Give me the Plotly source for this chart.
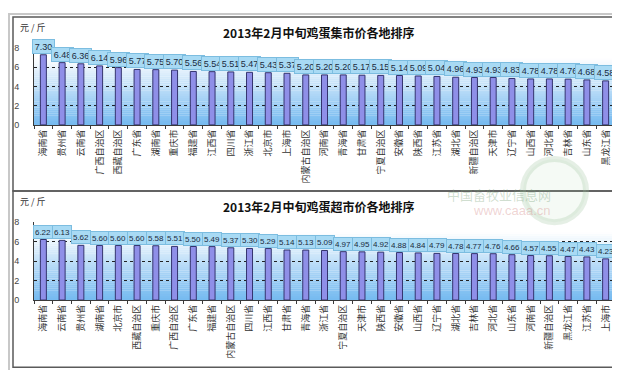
import plotly.graph_objects as go

# ---------------- data ----------------
market_regions = ["海南省", "贵州省", "云南省", "广西自治区", "西藏自治区", "广东省", "湖南省", "重庆市",
                  "福建省", "江西省", "四川省", "浙江省", "北京市", "上海市", "内蒙古自治区", "河南省",
                  "青海省", "甘肃省", "宁夏自治区", "安徽省", "陕西省", "江苏省", "湖北省", "新疆自治区",
                  "天津市", "辽宁省", "山西省", "河北省", "吉林省", "山东省", "黑龙江省"]
market_prices = [7.30, 6.48, 6.36, 6.14, 5.96, 5.77, 5.75, 5.70,
                 5.56, 5.54, 5.51, 5.47, 5.43, 5.37, 5.20, 5.20,
                 5.20, 5.17, 5.15, 5.14, 5.09, 5.04, 4.96, 4.93,
                 4.93, 4.83, 4.78, 4.78, 4.76, 4.68, 4.58]

super_regions = ["海南省", "云南省", "贵州省", "湖南省", "北京市", "西藏自治区", "重庆市", "广西自治区",
                 "广东省", "福建省", "内蒙古自治区", "四川省", "江西省", "甘肃省", "青海省", "浙江省",
                 "宁夏自治区", "天津市", "陕西省", "安徽省", "山西省", "辽宁省", "湖北省", "吉林省",
                 "河北省", "山东省", "河南省", "新疆自治区", "黑龙江省", "江苏省", "上海市"]
super_prices = [6.22, 6.13, 5.62, 5.60, 5.60, 5.60, 5.58, 5.51,
                5.50, 5.49, 5.37, 5.30, 5.29, 5.14, 5.13, 5.09,
                4.97, 4.95, 4.92, 4.88, 4.84, 4.79, 4.78, 4.77,
                4.76, 4.66, 4.57, 4.55, 4.47, 4.43, 4.23]

y_ticks = [0, 2, 4, 6, 8]
title_market = "2013年2月中旬鸡蛋集市价各地排序"
title_super = "2013年2月中旬鸡蛋超市价各地排序"
unit_label = "元 / 斤"

# ---------------- layout helpers ----------------
W, H = 620, 370
CJK = "Noto Sans CJK SC"


def fy(px):
    return 1 - px / H


def fx(px):
    return px / W


x_dom = [fx(26), fx(607)]
panels = [
    dict(xa="x", ya="y", regions=market_regions, prices=market_prices, title=title_market,
         ydom=[fy(115), fy(36)], title_y=20, unit_y=15, lab_font=9, lab_w=19, lab_h=11),
    dict(xa="x2", ya="y2", regions=super_regions, prices=super_prices, title=title_super,
         ydom=[fy(295), fy(215)], title_y=199, unit_y=194, lab_font=8, lab_w=16, lab_h=10),
]

fig = go.Figure()
shapes = []
annotations = []

# panel frames
shapes.append(dict(type="rect", xref="paper", yref="paper", x0=fx(1), x1=fx(619), y0=fy(369), y1=fy(1),
                   line=dict(color="#c8c8c8", width=2), fillcolor="rgba(0,0,0,0)", layer="below"))
for top, bot in [(4, 183), (183, 364)]:
    shapes.append(dict(type="rect", xref="paper", yref="paper", x0=fx(5), x1=fx(614), y0=fy(bot), y1=fy(top),
                       line=dict(color="#5a5a5a", width=1.5), fillcolor="rgba(0,0,0,0)", layer="below"))

N_BANDS = 40
top_rgb = (255, 255, 255)
bot_rgb = (118, 186, 240)

for i, p in enumerate(panels):
    xa, ya = p["xa"], p["ya"]
    fig.add_trace(go.Bar(
        x=p["regions"], y=p["prices"], xaxis=xa, yaxis=ya, width=0.32,
        marker=dict(color="#8f8fe8", line=dict(color="#34346e", width=1)),
        showlegend=False, hoverinfo="x+y"))

    sfx = "" if i == 0 else "2"
    fig.layout["xaxis" + sfx] = dict(
        domain=x_dom, anchor=ya, type="category", range=[-0.5, len(p["regions"]) - 0.5],
        tickangle=-90, showline=True, linecolor="#3a3a3a", linewidth=1,
        ticks="outside", tickson="boundaries", ticklen=3, tickcolor="#3a3a3a",
        tickfont=dict(family=CJK, size=9, color="#333333"), showgrid=False, fixedrange=True)
    fig.layout["yaxis" + sfx] = dict(
        domain=p["ydom"], anchor=xa, range=[0, 8], tickvals=y_ticks,
        showgrid=True, gridcolor="#222222", griddash="dot", gridwidth=1,
        showline=True, linecolor="#3a3a3a", linewidth=1, zeroline=False,
        ticks="", ticklabelstandoff=12, tickfont=dict(family="Liberation Sans", size=9, color="#444444"),
        fixedrange=True)

    # gradient background of plot area
    for b in range(N_BANDS):
        t = (b + 0.5) / N_BANDS  # 0 bottom -> 1 top
        w = min(1.0, t * 1.15) ** 1.1
        col = tuple(int(round(bot_rgb[k] + (top_rgb[k] - bot_rgb[k]) * w)) for k in range(3))
        shapes.append(dict(type="rect", xref=xa + " domain", yref=ya + " domain",
                           x0=0, x1=1, y0=b / N_BANDS, y1=(b + 1) / N_BANDS + 0.002,
                           line=dict(width=0), fillcolor="rgb(%d,%d,%d)" % col, layer="below"))
    # dotted right border
    shapes.append(dict(type="line", xref=xa + " domain", yref=ya + " domain", x0=1, x1=1, y0=0, y1=1,
                       line=dict(color="#222222", width=1, dash="dot")))

    # data labels
    for r, v in zip(p["regions"], p["prices"]):
        annotations.append(dict(
            x=r, y=v, xref=xa, yref=ya, yanchor="bottom", yshift=1, showarrow=False,
            text="%.2f" % v, font=dict(family="Liberation Sans", size=p["lab_font"], color="#1a2a40"),
            bgcolor="#a8daf4", bordercolor="#7cbde0", borderwidth=1, borderpad=1,
            width=p["lab_w"], height=p["lab_h"]))

    # title and unit
    annotations.append(dict(x=0.5, y=fy(p["title_y"]), xref="paper", yref="paper", showarrow=False,
                            text="<b>%s</b>" % p["title"], xanchor="center", yanchor="middle",
                            font=dict(family=CJK, size=12, color="#111111")))
    annotations.append(dict(x=fx(10), y=fy(p["unit_y"]), xref="paper", yref="paper", showarrow=False,
                            text=unit_label, xanchor="left", yanchor="middle",
                            font=dict(family=CJK, size=9, color="#333333")))

# faint watermark
shapes.append(dict(type="circle", xref="paper", yref="paper", x0=fx(515), x1=fx(578), y0=fy(215), y1=fy(150),
                   line=dict(color="rgba(150,190,150,0.25)", width=6), fillcolor="rgba(170,210,170,0.12)",
                   layer="below"))
annotations.append(dict(x=fx(545), y=fy(187), xref="paper", yref="paper", showarrow=False,
                        text="中国畜牧业信息网", font=dict(family=CJK, size=13, color="rgba(120,160,120,0.35)")))
annotations.append(dict(x=fx(545), y=fy(203), xref="paper", yref="paper", showarrow=False,
                        text="www.caaa.cn", font=dict(family="Liberation Sans", size=13,
                                                      color="rgba(210,130,130,0.35)")))

fig.update_layout(
    width=W, height=H, autosize=False,
    margin=dict(l=0, r=0, t=0, b=0),
    paper_bgcolor="#ffffff", plot_bgcolor="rgba(0,0,0,0)",
    bargap=0.7, shapes=shapes, annotations=annotations, showlegend=False,
)

fig.write_html("out.html", config={"displayModeBar": False})
